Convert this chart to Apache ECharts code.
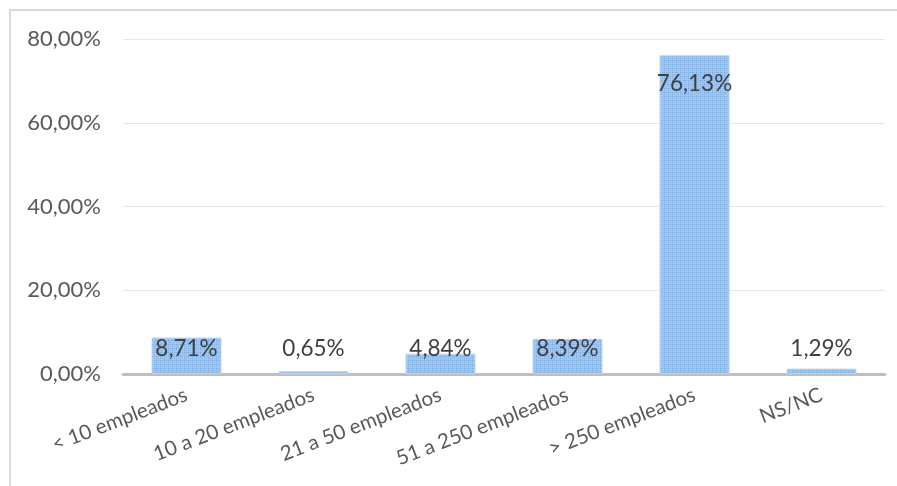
<!DOCTYPE html>
<html><head><meta charset="utf-8">
<script src="https://cdn.jsdelivr.net/npm/echarts@6/dist/echarts.min.js"></script>
<style>
html,body{margin:0;padding:0;background:#fff;}
#frame{position:absolute;left:9px;top:9px;width:900px;height:490px;border-left:2px solid #d9d9d9;border-top:2px solid #d9d9d9;}
#c{position:absolute;left:0;top:0;width:897px;height:486px;}
</style></head>
<body>
<div id="frame"></div>
<div id="c"></div>
<script>
const categories = ['< 10 empleados','10 a 20 empleados','21 a 50 empleados','51 a 250 empleados','> 250 empleados','NS/NC'];
const values = [8.71, 0.65, 4.84, 8.39, 76.13, 1.29];
const yTicks = [0, 20, 40, 60, 80];

function fmt(v){ return v.toFixed(2).replace('.', ',') + '%'; }

const pc = document.createElement('canvas');
pc.width = 4; pc.height = 4;
const g = pc.getContext('2d');
g.fillStyle = '#a6c9ef'; g.fillRect(0,0,4,4);
g.fillStyle = '#93bce9';
g.fillRect(0,0,4,1); g.fillRect(0,0,1,4);
g.fillStyle = '#7aa9df'; g.fillRect(0,0,1,1); g.fillRect(2,2,1,1);

const FONT = 'Lato';
const chart = echarts.init(document.getElementById('c'), null, {renderer:'canvas'});
chart.setOption({
  animation:false,
  grid:{left:123, right:12, top:39, bottom:112, containLabel:false},
  xAxis:{type:'category', data:categories,
    axisLine:{lineStyle:{color:'#bfbfbf', width:3}},
    axisTick:{show:false},
    axisLabel:{rotate:21, color:'#595959', fontSize:20.5, fontFamily:FONT, margin:20, interval:0}
  },
  yAxis:{type:'value', min:yTicks[0], max:yTicks[yTicks.length-1], interval:20,
    axisLine:{show:false}, axisTick:{show:false},
    splitLine:{lineStyle:{color:'#e6e6e6', width:1}},
    axisLabel:{color:'#595959', fontSize:22, fontFamily:FONT, margin:22, formatter:v=>fmt(v)}
  },
  series:[{type:'bar', barWidth:70,
    data: values.map(v => ({value:v, label: v > 30 ?
      {position:'insideTop', distance:17} : {position:'insideBottom', distance:14}})),
    itemStyle:{color:{image:pc, repeat:'repeat'}, borderColor:'#bcd7f3', borderWidth:1},
    label:{show:true, color:'#404040', fontSize:22.5, fontFamily:FONT, formatter:p=>fmt(p.value)}
  }]
});
</script>
</body></html>
